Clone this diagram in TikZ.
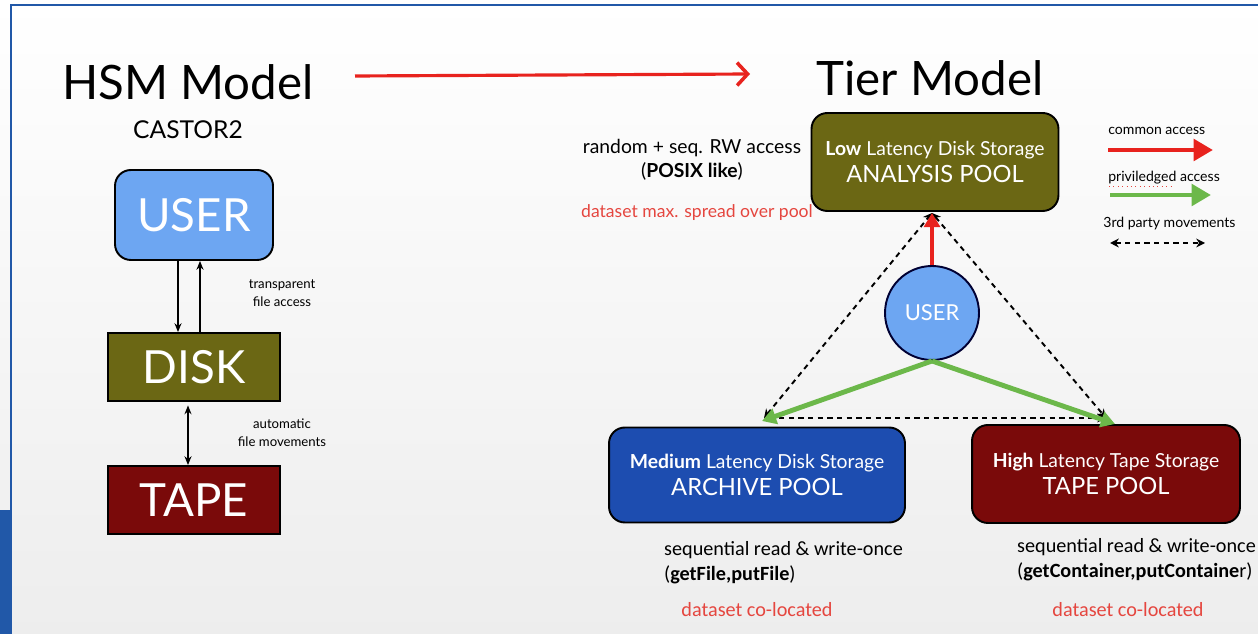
\documentclass[tikz,border=0pt]{standalone}
\usepackage{fontspec}
\setmainfont{Lato}
\newfontfamily\calib{Carlito}
\usetikzlibrary{arrows.meta,positioning}

\definecolor{frameblue}{HTML}{2158A8}
\definecolor{userblue}{HTML}{6DA6F2}
\definecolor{diskolive}{HTML}{6B6714}
\definecolor{tapered}{HTML}{7A0A0A}
\definecolor{archblue}{HTML}{1D4DB0}
\definecolor{accred}{HTML}{E8231E}
\definecolor{accgreen}{HTML}{6CB84A}
\definecolor{notered}{HTML}{E5463F}

\newcommand\fsz[2]{\fontsize{#1}{#2}\selectfont}

\tikzset{
  box/.style={draw=black, line width=1.1pt, text=white, inner sep=0pt, align=center},
  hsmbox/.style={box, minimum width=3.44cm, minimum height=1.36cm, font=\fsz{26}{30}},
  pool/.style={box, rounded corners=9pt, minimum height=1.96cm},
  note/.style={align=center, font=\fsz{11}{14}},
  small/.style={align=center, font=\fsz{7.5}{10}},
  common/.style={accred, line width=2.8pt, -{Triangle[length=8pt,width=9pt]}},
  privileged/.style={accgreen, line width=2.8pt, -{Triangle[length=8pt,width=9pt]}},
  thirdparty/.style={black, line width=1.1pt, dash pattern=on 3pt off 2.5pt,
    {Stealth[length=5pt,width=5pt]}-{Stealth[length=5pt,width=5pt]}},
  plain/.style={black, line width=0.9pt, -{Stealth[length=5pt,width=4pt]}}
}

\begin{document}
\begin{tikzpicture}[x=0.02cm,y=-0.02cm]
\useasboundingbox (0,0) rectangle (1258,634);
% background and frame
\shade[top color=white, bottom color=black!7] (0,0) rectangle (1258,634);
\draw[frameblue, line width=1.1pt] (11,510) -- (11,5) -- (1258,5);
\fill[frameblue] (0,510) rectangle (12,634);

% HSM side
\node[font=\fsz{27}{30}] (hsm) at (188,82) {HSM Model};
\node[font=\fsz{14}{16}] (castor) at (188,130) {CASTOR2};
\node[box, fill=userblue, rounded corners=9pt, minimum width=3.16cm, minimum height=1.8cm,
  font=\fsz{26}{30}] (huser) at (194,215) {USER};
\node[hsmbox, fill=diskolive] (disk) at (194,367) {DISK};
\node[hsmbox, fill=tapered] (tape) at (194,500) {TAPE};
\draw[plain] (huser.south -| 178,0) -- (disk.north -| 178,0);
\draw[plain] (disk.north -| 200,0) -- (huser.south -| 200,0);
\draw[plain, {Stealth[length=5pt,width=4pt]}-{Stealth[length=5pt,width=4pt]}]
  ([yshift=-2pt]disk.south -| 188,0) -- (tape.north -| 188,0);
\node[small] (transp) at (282,293) {transparent\\file access};
\node[small] (automat) at (282,433) {automatic\\file movements};

% model change
\coordinate (chgstart) at (355,76);
\coordinate (chgend) at (750,74);
\draw[accred, line width=1.8pt, -{Straight Barb[length=6pt,width=13pt,line width=2pt]}]
  (chgstart) -- (chgend);

% Tier side
\node[font=\fsz{27}{30}] (tier) at (930,78) {Tier Model};
\node[pool, fill=diskolive, minimum width=4.94cm] (analysis) at (935,162)
  {{\fsz{11}{15}\textbf{Low} Latency Disk Storage}\\[3pt]{\fsz{13.5}{16}ANALYSIS POOL}};
\node[pool, fill=archblue, minimum width=5.92cm, minimum height=1.9cm] (archive) at (757,475)
  {{\fsz{11}{15}\textbf{Medium} Latency Disk Storage}\\[3pt]{\fsz{13.5}{16}ARCHIVE POOL}};
\node[pool, fill=tapered, minimum width=5.36cm] (tapepool) at (1106,474)
  {{\fsz{11}{15}\textbf{High} Latency Tape Storage}\\[3pt]{\fsz{13.5}{16}TAPE POOL}};
\node[circle, draw=black!80!blue, line width=1.1pt, fill=userblue, minimum size=1.88cm,
  inner sep=0pt, text=white, font=\fsz{12.5}{14}] (user) at (932,313) {USER};

\node[note] (posix) at (692,160) {random + seq. RW access\\(\textbf{POSIX like})};
\node[note, text=notered, font=\fsz{10}{13}] (spread) at (697,213) {dataset max. spread over pool};
\node[note, font=\calib\fsz{11.5}{14.5}, align=left, anchor=north west] (archnote) at (658,535)
  {sequential read \& write-once\\(\textbf{getFile,putFile})};
\node[note, font=\calib\fsz{11.5}{14.5}, align=left, anchor=north west] (tapenote) at (1011,532)
  {sequential read \& write-once\\(\textbf{getContainer,putContaine}r)};
\node[note, font=\calib\fsz{11.5}{14.5}, text=notered] (archloc) at (757,610) {dataset co-located};
\node[note, font=\calib\fsz{11.5}{14.5}, text=notered] (tapeloc) at (1128,610) {dataset co-located};

% connectors
\coordinate (anbot) at (932,213);
\coordinate (archtip) at (762,421);
\coordinate (tapetip) at (1115,424);
\coordinate (archdash) at (764,418);
\coordinate (tapedash) at (1106,418);
\draw[thirdparty] (archdash) -- (anbot);
\draw[thirdparty] (anbot) -- (tapedash);
\draw[thirdparty] (archdash) -- (tapedash);
\draw[common] (user.north) -- (anbot);
\draw[privileged] (user.south) -- (archtip);
\draw[privileged] (user.south) -- (tapetip);

% legend
\node[anchor=west, font=\fsz{8}{10}, inner sep=0pt] (lgcommon) at (1108,131) {common access};
\node[anchor=west, font=\fsz{8}{10}, inner sep=0pt] (lgpriv) at (1108,178) {priviledged access};
\node[anchor=west, font=\fsz{8}{10}, inner sep=0pt] (lgthird) at (1103,224) {3rd party movements};
\draw[notered, line width=0.5pt, dotted] (1109,186) -- (1172,186);
\coordinate (lgc1) at (1108,150); \coordinate (lgc2) at (1213,150);
\coordinate (lgp1) at (1110,195); \coordinate (lgp2) at (1211,195);
\coordinate (lgt1) at (1110,243); \coordinate (lgt2) at (1205,243);
\draw[common, -{Triangle[length=11pt,width=12pt]}] (lgc1) -- (lgc2);
\draw[privileged, -{Triangle[length=11pt,width=12pt]}] (lgp1) -- (lgp2);
\draw[thirdparty] (lgt1) -- (lgt2);
\end{tikzpicture}
\end{document}
